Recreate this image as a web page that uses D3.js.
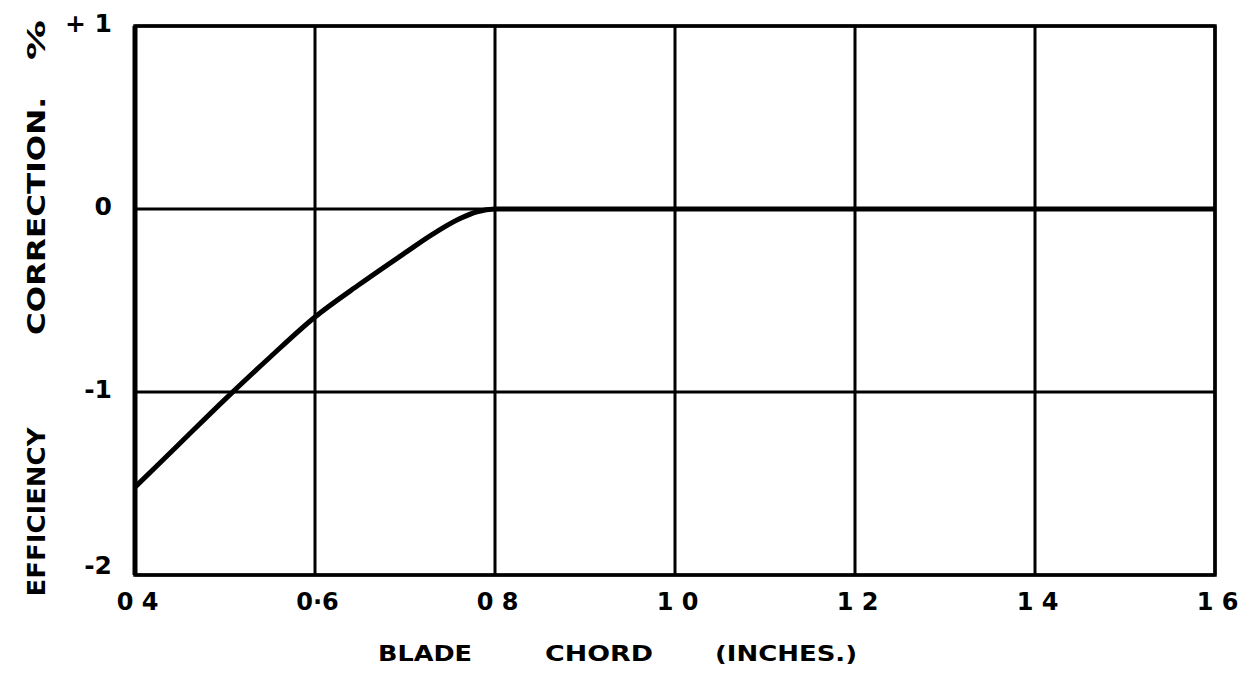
<!DOCTYPE html>
<html>
<head>
<meta charset="utf-8">
<script src="https://cdn.jsdelivr.net/npm/d3@7"></script>
<style>
  body { margin: 0; background: #fff; }
  text { font-family: "DejaVu Sans", sans-serif; font-weight: bold; fill: #000; }
</style>
</head>
<body>
<div id="chart"></div>
<script>
// values
var chord = [0.4, 0.45, 0.5, 0.55, 0.6, 0.65, 0.7, 0.73, 0.76, 0.78, 0.8, 1.0, 1.2, 1.4, 1.6];
var correction = [-1.52, -1.28, -1.04, -0.81, -0.59, -0.41, -0.24, -0.14, -0.055, -0.015, 0, 0, 0, 0, 0];

var xTicks = [0.4, 0.6, 0.8, 1.0, 1.2, 1.4, 1.6];
var xTickLabels = ["0 4", "0·6", "0 8", "1 0", "1 2", "1 4", "1 6"];
var yTicks = [1, 0, -1, -2];
var yTickLabels = ["+ 1", "0", "-1", "-2"];

var margin = {top: 26, right: 33, bottom: 101, left: 135},
    width = 1248 - margin.left - margin.right,
    height = 676 - margin.top - margin.bottom;

var svg = d3.select("#chart")
    .append("svg")
    .attr("width", 1248)
    .attr("height", 676);

var g = svg.append("g")
    .attr("transform", "translate(" + margin.left + "," + margin.top + ")");

var x = d3.scaleLinear().domain([0.4, 1.6]).range([0, width]);
var y = d3.scaleLinear().domain([-2, 1]).range([height, 0]);

// grid lines
g.append("g")
    .selectAll("line")
    .data(xTicks)
    .join("line")
        .attr("x1", d => x(d)).attr("x2", d => x(d))
        .attr("y1", 0).attr("y2", height)
        .attr("stroke", "#000")
        .attr("stroke-width", 3);

g.append("g")
    .selectAll("line")
    .data(yTicks)
    .join("line")
        .attr("x1", 0).attr("x2", width)
        .attr("y1", d => y(d)).attr("y2", d => y(d))
        .attr("stroke", "#000")
        .attr("stroke-width", 3);

// frame
g.append("rect")
    .attr("width", width)
    .attr("height", height)
    .attr("fill", "none")
    .attr("stroke", "#000")
    .attr("stroke-width", 3.5);
g.append("line")
    .attr("x1", 0).attr("x2", 0).attr("y1", 0).attr("y2", height)
    .attr("stroke", "#000").attr("stroke-width", 5);

// tick labels through the axes
var xAxisG = g.append("g")
    .attr("transform", "translate(0," + height + ")")
    .call(d3.axisBottom(x)
        .tickValues(xTicks)
        .tickSize(0)
        .tickPadding(18)
        .tickFormat((d, i) => xTickLabels[i]));
xAxisG.select(".domain").remove();
xAxisG.selectAll("text")
    .attr("font-size", 24)
    .attr("font-family", "DejaVu Sans")
    .attr("dx", 2)
    .style("font-weight", "bold");

var yAxisG = g.append("g")
    .call(d3.axisLeft(y)
        .tickValues(yTicks)
        .tickSize(0)
        .tickPadding(23)
        .tickFormat((d, i) => yTickLabels[i]));
yAxisG.select(".domain").remove();
yAxisG.selectAll("text")
    .attr("font-size", 25)
    .attr("font-family", "DejaVu Sans")
    .attr("dy", "0.2em")
    .style("font-weight", "bold");
yAxisG.selectAll(".tick")
    .filter(d => d === -2)
    .select("text")
    .attr("dy", "-0.05em");

// the curve
var line = d3.line()
    .x((d, i) => x(chord[i]))
    .y(d => y(d))
    .curve(d3.curveMonotoneX);

g.append("path")
    .datum(correction)
    .attr("fill", "none")
    .attr("stroke", "#000")
    .attr("stroke-width", 5)
    .attr("stroke-linejoin", "round")
    .attr("d", line);

// axis titles
function yTitle(txt, cy, len) {
    svg.append("text")
        .attr("transform", "translate(45," + cy + ") rotate(-90)")
        .attr("text-anchor", "middle")
        .attr("font-size", 24)
        .attr("textLength", len)
        .attr("lengthAdjust", "spacingAndGlyphs")
        .text(txt);
}
yTitle("EFFICIENCY", 512, 169);
yTitle("CORRECTION.", 216, 238);
yTitle("%", 40, 40);

function xTitle(txt, cx, len) {
    svg.append("text")
        .attr("x", cx)
        .attr("y", 661)
        .attr("text-anchor", "middle")
        .attr("font-size", 22)
        .attr("textLength", len)
        .attr("lengthAdjust", "spacingAndGlyphs")
        .text(txt);
}
xTitle("BLADE", 425, 94);
xTitle("CHORD", 599, 108);
xTitle("(INCHES.)", 786, 142);
</script>
</body>
</html>
